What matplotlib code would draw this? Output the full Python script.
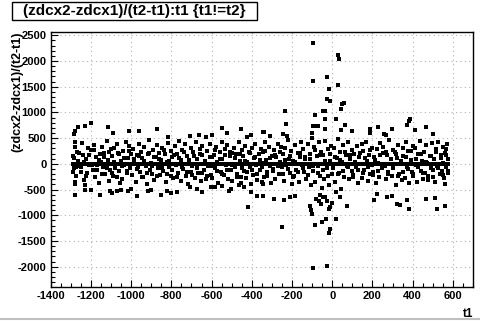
import matplotlib
matplotlib.use("Agg")
import matplotlib.pyplot as plt
from matplotlib.patches import Rectangle
from matplotlib.lines import Line2D
from matplotlib.ticker import MultipleLocator

plt.rcParams['font.family'] = ['Liberation Sans', 'DejaVu Sans']
plt.rcParams['font.weight'] = 'bold'
plt.rcParams['axes.unicode_minus'] = False

title = "(zdcx2-zdcx1)/(t2-t1):t1 {t1!=t2}"
xlabel = "t1"
ylabel = "(zdcx2-zdcx1)/(t2-t1)"

# points sitting on dz = 0 (the thick line)
zero_t1 = [-1290, -1276, -1262, -1249, -1235, -1220, -1207, -1193, -1180, -1165,
           -1151, -1138, -1124, -1110, -1096, -1083, -1069, -1055, -1041, -1028,
           -1014, -1000, -986, -973, -959, -945, -931, -918, -904, -890, -876,
           -863, -849, -835, -821, -808, -794, -780, -766, -753, -739, -725, -711,
           -698, -684, -670, -656, -643, -629, -615, -601, -588, -574, -560, -546,
           -533, -519, -505, -491, -478, -464, -450, -436, -423, -409, -395, -381,
           -368, -354, -340, -326, -313, -299, -285, -271, -258, -244, -230, -216,
           -203, -189, -175, -161, -148, -134, -120, -106, -93, -79, -65, -51, -38,
           -24, -10, 4, 17, 31, 45, 59, 72, 86, 100, 114, 127, 141, 155, 169, 182,
           196, 210, 224, 237, 251, 265, 279, 292, 306, 320, 334, 347, 361, 375,
           389, 402, 416, 430, 444, 457, 471, 485, 499, 512, 526, 540, 554, 567, 578]
zero_dz = [0] * len(zero_t1)

# main band of points
band = [
    (-1290, 150), (-1284, -90), (-1279, 330), (-1272, -230), (-1266, 60), (-1287, -150), (-1270, 240), (-1262, -40), (-1281, 420),
    (-1248, -60), (-1243, 400), (-1238, 180), (-1232, -310), (-1226, 90), (-1220, -170), (-1214, 300), (-1208, -20), (-1230, -420),
    (-1198, 260), (-1192, -110), (-1186, 370), (-1180, -260), (-1174, 130), (-1168, -30), (-1162, -380), (-1156, 200), (-1150, 40),
    (-1146, 330), (-1140, -60), (-1134, 210), (-1128, -190), (-1122, 450), (-1116, 70), (-1110, -330), (-1104, -120), (-1100, 280),
    (-1096, 160), (-1090, -240), (-1084, 310), (-1078, -80), (-1072, 390), (-1066, 210), (-1060, -140), (-1054, -380), (-1050, 60),
    (-1046, -300), (-1040, 250), (-1034, -20), (-1028, 420), (-1022, -180), (-1016, 120), (-1010, 340), (-1004, -90), (-1000, 190),
    (-996, -220), (-990, 290), (-984, 50), (-978, -350), (-972, 180), (-966, -60), (-960, 380), (-954, -150), (-950, 240),
    (-946, 110), (-940, -260), (-934, 330), (-928, -40), (-922, -400), (-916, 200), (-910, 460), (-904, -120), (-900, 20),
    (-896, -190), (-890, 270), (-884, -310), (-878, 140), (-872, 360), (-866, -80), (-860, 220), (-854, -220), (-850, 80),
    (-846, 300), (-840, -140), (-834, 190), (-828, -360), (-822, 40), (-816, 410), (-810, -60), (-804, 250), (-800, -240),
    (-796, 130), (-790, -280), (-784, 350), (-778, -20), (-772, 200), (-766, -170), (-760, 440), (-754, 70), (-750, -330),
    (-746, 260), (-740, -100), (-734, 380), (-728, -230), (-722, 150), (-716, -390), (-710, 30), (-704, 310), (-700, -160),
    (-696, -50), (-690, 230), (-684, -270), (-678, 420), (-672, 100), (-666, -180), (-660, 290), (-654, -340), (-650, 170),
    (-646, 340), (-640, -120), (-634, 60), (-628, -300), (-622, 250), (-616, -40), (-610, 390), (-604, -210), (-600, 130),
    (-596, -270), (-590, 180), (-584, -90), (-578, 320), (-572, 30), (-566, -380), (-560, 240), (-554, -150), (-550, 430),
    (-546, 90), (-540, -210), (-534, 280), (-528, -30), (-522, 370), (-516, -290), (-510, 150), (-504, -110), (-500, 220),
    (-496, -330), (-490, 310), (-484, -60), (-478, 200), (-472, -190), (-466, 420), (-460, 60), (-454, -250), (-450, 270),
    (-446, 160), (-440, -140), (-434, 350), (-428, -280), (-422, 40), (-416, 240), (-410, -70), (-404, -390), (-400, 300),
    (-396, -220), (-390, 110), (-384, 380), (-378, -30), (-372, -320), (-366, 200), (-360, -120), (-354, 290), (-350, 20),
    (-346, 230), (-340, -260), (-334, 420), (-328, 80), (-322, -150), (-316, 320), (-310, -50), (-304, -370), (-300, 160),
    (-296, -100), (-290, 270), (-284, -290), (-278, 140), (-272, 390), (-266, -200), (-260, 40), (-254, 330), (-250, -60),
    (-246, 190), (-240, -330), (-234, 310), (-228, -30), (-222, 460), (-216, 100), (-210, -180), (-204, 250), (-200, -400),
    (-196, 60), (-190, -240), (-184, 370), (-178, -110), (-172, 220), (-166, -350), (-160, 140), (-154, 420), (-150, -20),
    (-146, 290), (-140, -160), (-134, 90), (-128, -290), (-122, 380), (-116, -60), (-110, 200), (-104, -420), (-100, 500),
    (-96, -130), (-90, 330), (-84, -350), (-78, 150), (-72, -40), (-66, 430), (-60, -230), (-54, 240), (-50, -470),
    (-46, 180), (-40, -300), (-34, 450), (-28, -90), (-22, 280), (-16, -420), (-10, 60), (-4, 350), (0, -200),
    (4, -60), (10, 300), (16, -350), (22, 120), (28, 480), (34, -170), (40, 230), (46, -480), (50, 30),
    (54, 360), (60, -250), (66, 170), (72, -40), (78, 420), (84, -300), (90, 90), (96, 260), (100, -140),
    (104, -220), (110, 200), (116, -70), (122, 340), (128, -380), (134, 130), (140, -10), (146, 390), (150, -280),
    (154, 250), (160, -120), (166, 430), (172, 60), (178, -330), (184, 180), (190, -200), (196, 310), (200, -30),
    (204, -160), (210, 140), (216, -370), (222, 290), (228, 20), (234, -260), (240, 400), (246, -80), (250, 210),
    (254, 330), (260, -40), (266, -300), (272, 180), (278, -150), (284, 460), (290, 90), (296, -240), (300, 270),
    (304, -90), (310, 230), (316, -420), (322, 120), (328, 370), (334, -200), (340, 40), (346, -320), (350, 300),
    (354, 160), (360, -270), (366, 420), (372, -60), (378, 250), (384, -380), (390, 80), (396, -160), (400, 340),
    (404, -230), (410, 300), (416, -20), (422, -360), (428, 190), (434, 440), (440, -130), (446, 60), (450, -290),
    (454, 240), (460, -180), (466, 370), (472, 20), (478, -310), (484, 150), (490, -90), (496, 410), (500, -250),
    (504, 100), (510, -360), (516, 280), (522, -40), (528, 430), (534, -200), (540, 180), (546, -130), (550, 330),
    (554, -280), (560, 220), (566, -70), (570, 380), (574, -180), (578, 90), (562, -400), (568, 290), (550, 10),
]

# denser core of the band, within about +-260
core = [
    (-1285, 110), (-1273, -70), (-1260, 210), (-1248, -160), (-1235, 40), (-1222, -240), (-1210, 170),
    (-1197, -30), (-1185, 260), (-1172, -120), (-1160, 80), (-1147, -200), (-1135, 140), (-1122, -90),
    (-1110, 230), (-1097, -180), (-1085, 30), (-1072, -260), (-1060, 190), (-1047, -50), (-1035, 120),
    (-1022, -130), (-1010, 250), (-997, -210), (-985, 90), (-972, -100), (-960, 160), (-947, -250),
    (-935, 60), (-922, -170), (-910, 220), (-897, -40), (-885, 140), (-872, -230), (-860, 100),
    (-847, -80), (-835, 270), (-822, -190), (-810, 50), (-797, -120), (-785, 180), (-772, -260),
    (-760, 110), (-747, -60), (-735, 240), (-722, -150), (-710, 70), (-697, -220), (-685, 150),
    (-672, -90), (-660, 200), (-647, -170), (-635, 30), (-622, -240), (-610, 130), (-597, -50),
    (-585, 260), (-572, -140), (-560, 90), (-547, -200), (-535, 170), (-522, -110), (-510, 230),
    (-497, -30), (-485, 120), (-472, -250), (-460, 190), (-447, -80), (-435, 60), (-422, -160),
    (-410, 210), (-397, -120), (-385, 140), (-372, -200), (-360, 80), (-347, -60), (-335, 250),
    (-322, -230), (-310, 110), (-297, -140), (-285, 180), (-272, -40), (-260, 230), (-247, -190),
    (-235, 70), (-222, -100), (-210, 160), (-197, -250), (-185, 40), (-172, -160), (-160, 220),
    (-147, -80), (-135, 130), (-122, -210), (-110, 90), (-97, -50), (-85, 260), (-72, -180),
    (-60, 170), (-47, -120), (-35, 60), (-22, -240), (-10, 200), (3, -90), (15, 140), (28, -200),
    (40, 80), (53, -140), (65, 240), (78, -60), (90, 180), (103, -250), (115, 30), (128, -110),
    (140, 210), (153, -180), (165, 120), (178, -70), (190, 260), (203, -220), (215, 70), (228, -130),
    (240, 170), (253, -40), (265, 230), (278, -190), (290, 100), (303, -80), (315, 190), (328, -240),
    (340, 60), (353, -150), (365, 140), (378, -100), (390, 250), (403, -200), (415, 90), (428, -60),
    (440, 200), (453, -170), (465, 40), (478, -230), (490, 160), (503, -110), (515, 230), (528, -80),
    (540, 120), (553, -210), (565, 180), (576, -140),
]

# points away from the band
outliers = [
    (-98, 2346), (27, 2118), (32, 2035), (-24, 1684), (-97, 1606), (27, 1529), (-15, 1451),
    (-27, 1268), (-12, 1218), (59, 1190), (51, 1165), (42, 1062), (-236, 1023), (-45, 1023),
    (-37, 1035), (-87, 945), (17, 867), (-35, 867), (-231, 770), (-98, 737), (-86, 742),
    (-73, 745), (-34, 679), (62, 750), (42, 659), (99, 640), (388, 867), (383, 834), (370, 750),
    (464, 712), (410, 659), (295, 685), (226, 712), (186, 679), (186, 607), (499, 582),
    (258, 582), (269, 556), (-103, 595), (-247, 572), (-226, 548), (-338, 627), (-308, 548),
    (-98, -2025), (-27, -1992), (-251, -1227), (-9, -1272), (-14, -1344), (-33, -1078),
    (17, -1078), (-53, -1130), (-87, -1194), (-103, -969), (-108, -897), (-112, -819),
    (-80, -690), (-68, -720), (-58, -780), (-48, -650), (-38, -640), (-61, -600), (-24, -730),
    (-14, -870), (-9, -840), (-3, -760), (39, -638), (21, -552), (72, -819), (210, -708),
    (223, -591), (271, -644), (297, -618), (320, -780), (339, -806), (372, -696), (383, -877),
    (464, -689), (509, -663), (519, -883), (562, -819), (-290, -689), (-239, -708),
    (-209, -638), (-186, -618), (-345, -620),
    (-1198, 790), (-1263, 724), (-1228, 737), (-1284, 582), (-1278, 646), (-1114, 712),
    (-1089, 607), (-1010, 634), (-960, 634), (-871, 673), (-816, 517), (-709, 543),
    (-664, 562), (-626, 530), (-600, 556), (-548, 692), (-522, 595), (-454, 673),
    (-404, 556), (-424, 530), (-343, 620),
    (-1278, -611), (-1228, -514), (-1280, -346), (-1280, -391), (-1200, -508), (-1155, -611),
    (-1107, -533), (-1097, -572), (-1072, -527), (-1048, -514), (-1016, -533), (-1000, -494),
    (-972, -624), (-914, -533), (-899, -508), (-853, -611), (-821, -533), (-803, -559),
    (-772, -540), (-709, -455), (-670, -494), (-648, -546), (-601, -455), (-583, -442),
    (-548, -430), (-515, -520), (-502, -482), (-465, -410), (-456, -366), (-439, -449),
    (-417, -830), (-402, -540), (-376, -624), (-350, -358), (-346, -398),
]

pts = band + core + outliers
t1 = [p[0] for p in pts] + zero_t1
dz = [p[1] for p in pts] + zero_dz

fig = plt.figure(figsize=(4.8, 3.21), dpi=100)
ax = fig.add_axes([50.7 / 480, 1 - 286.7 / 321, (473 - 50.7) / 480, (286.7 - 31.5) / 321])

ax.plot(t1, dz, linestyle='none', marker='s', ms=2.3, mew=0, color='black')

ax.set_xlim(-1400, 700)
ax.set_ylim(-2390, 2575)
ax.xaxis.set_major_locator(MultipleLocator(200))
ax.xaxis.set_minor_locator(MultipleLocator(50))
ax.yaxis.set_major_locator(MultipleLocator(500))
ax.yaxis.set_minor_locator(MultipleLocator(100))
ax.grid(True, which='major', color='#b0b0b0', linestyle=(0, (1, 3)), linewidth=0.8)
ax.set_axisbelow(True)

ax.tick_params(which='both', direction='in', top=False, right=False, width=0.8,
               labelsize=8, pad=3)
ax.tick_params(which='major', length=5)
ax.tick_params(which='minor', length=3)
for lab in ax.get_xticklabels() + ax.get_yticklabels():
    lab.set_fontweight('bold')
for s in ax.spines.values():
    s.set_linewidth(1.0)

ax.set_xlabel(xlabel, fontsize=8.5, fontweight='bold', loc='right', labelpad=5)
ax.set_ylabel(ylabel, fontsize=9, fontweight='bold', loc='top', labelpad=-4)

# title box
fig.patches.append(Rectangle((12 / 480, 1 - 20 / 321), 245 / 480, 18 / 321,
                             transform=fig.transFigure, facecolor='white',
                             edgecolor='black', linewidth=1.0))
fig.text(134.5 / 480, 1 - 11 / 321, title, ha='center', va='center',
         fontsize=11, fontweight='bold')

# grey canvas edge at the bottom
fig.lines.append(Line2D([0, 1], [1 - 318.5 / 321, 1 - 318.5 / 321], transform=fig.transFigure,
                        color='#c0c0c0', linewidth=1.5))

fig.savefig('out.png', dpi=100)
